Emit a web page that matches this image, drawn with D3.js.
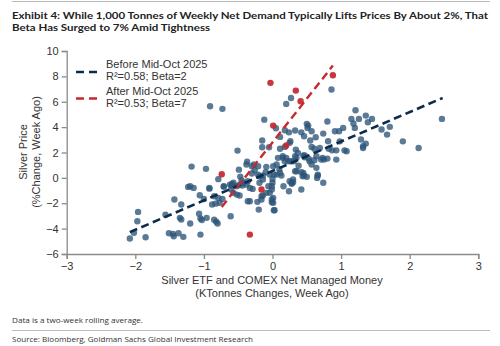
<!DOCTYPE html>
<html><head><meta charset="utf-8">
<script src="https://cdn.jsdelivr.net/npm/d3@7"></script>
<style>body{margin:0;background:#fff}svg{display:block}</style>
</head><body>
<svg id="c" width="500" height="346"></svg>
<script>
// ---- data ----
const beforeX = [-2.08,-2.02,-1.96,-1.97,-1.85,-1.56,-1.43,-1.33,-1.35,-1.33,-1.51,-1.45,-1.44,-1.37,-1.30,-1.23,-1.20,-1.15,-1.20,-1.07,-1.05,-1.03,-1.05,-1.06,-1.00,-0.92,-0.96,-0.88,-0.85,-0.82,-0.80,-0.77,-0.73,-0.71,-0.61,-1.18,-0.97,-0.91,-0.73,-0.79,-0.92,-0.85,-0.79,-0.83,
-0.51,-0.49,-0.37,-0.47,-0.71,-0.59,-0.52,-0.12,0.05,-0.15,-0.15,0.11,-0.38,-0.30,-0.27,-0.21,-0.09,-0.10,-0.57,-0.33,-0.22,-0.01,-0.20,0.03,-0.57,-0.60,-0.48,-0.43,-0.33,-0.29,-0.21,-0.19,-0.14,-0.04,0.00,0.02,-0.19,-0.14,-0.16,-0.09,-0.44,-0.38,-0.36,-0.52,-0.48,-0.36,-0.62,-0.60,-0.16,-0.14,-0.06,-0.01,-0.04,0.01,-0.01,0.01,
0.27,0.20,0.86,0.80,0.18,0.24,0.33,0.42,0.51,0.52,0.57,0.74,0.91,0.97,1.03,0.11,0.26,0.55,0.63,0.81,0.18,0.34,0.57,0.61,0.69,0.93,0.87,1.05,0.46,0.50,-0.05,0.25,
1.15,1.18,1.26,1.36,1.39,1.45,1.21,1.20,1.59,1.71,1.67,1.29,1.36,1.32,1.32,0.98,1.08,1.90,2.13,2.47,
0.15,0.54,0.64,0.71,0.75,0.93,0.66,0.65,0.74,0.45,0.44,0.33,0.25,0.28,0.30,0.16,0.24,0.42,0.00,-0.01,0.02,0.33,0.37,0.45,0.47,0.06,0.11,0.13,0.15,0.20,0.18,0.01,0.06,0.08,0.30,0.28,0.50,0.66,0.35,0.42,0.46,0.82,0.73,0.80,0.53,0.57,0.61,0.64,0.35,0.47,0.23,0.27,0.31,-0.26,-0.30,-0.45,0.10,0.38];
const beforeY = [-4.78,-4.33,-2.68,-3.42,-4.68,-2.90,-1.71,-2.10,-3.15,-3.28,-4.36,-4.41,-4.60,-4.36,-4.65,-0.71,-0.66,-0.79,-3.60,-2.82,-3.20,-3.32,-4.47,-1.37,-1.66,-0.85,-3.15,-2.10,-3.30,-3.45,-3.60,-1.97,-1.66,-0.66,-3.02,0.89,0.71,5.64,5.44,-0.10,-0.79,-1.45,-1.58,-2.03,
2.15,0.65,1.28,0.10,-0.69,-0.47,-0.66,4.59,3.91,2.94,2.41,2.29,1.05,0.92,1.05,0.92,0.87,0.44,-1.18,-1.84,-1.89,-1.92,-2.50,-2.55,-0.39,-0.61,-0.53,-0.39,-0.79,-0.87,0.26,0.13,0.18,0.26,-0.08,0.26,-0.39,-0.13,-1.45,-1.18,-0.61,-0.53,-0.27,-1.32,-1.39,-1.84,-0.53,-0.92,-1.71,-1.39,-0.66,-0.92,-1.18,-1.58,-1.71,-1.97,
6.30,5.83,6.96,4.44,3.75,3.59,3.73,3.59,3.94,4.12,3.67,3.49,3.67,3.67,3.94,3.23,2.89,2.94,3.20,2.89,2.44,2.23,2.44,2.29,2.36,2.17,2.17,2.17,3.28,4.26,2.41,2.76,
4.65,4.28,4.65,4.91,4.38,4.65,5.33,3.94,3.81,4.02,3.41,3.02,2.70,2.49,2.36,2.88,2.10,2.88,2.36,4.65,
1.58,1.31,0.79,1.44,1.44,1.44,0.18,0.00,-0.39,0.39,0.13,0.52,-0.27,-0.47,-0.35,-0.66,-1.06,-0.92,-0.39,-0.66,-2.55,1.70,1.97,1.76,1.63,0.26,0.39,0.18,1.70,1.58,1.31,0.92,1.05,1.58,-0.13,-0.39,0.08,0.26,0.52,0.44,0.18,2.29,1.58,1.52,1.50,1.05,1.39,1.70,1.58,1.76,1.31,1.31,1.31,0.60,0.35,-0.20,0.70,0.95];
const afterX = [-0.74,-0.16,-0.33,-0.03,0.88,0.34,0.41,0.01,0.20];
const afterY = [0.28,-0.92,-4.47,7.49,8.09,6.88,6.04,4.12,2.55];
const fitBeforeX = [-2.08, 2.48];
const fitBeforeY = [-4.28, 6.30];
const fitAfterX = [-0.74, 0.88];
const fitAfterY = [-2.29, 8.85];
const xTicks = [-3,-2,-1,0,1,2,3];
const yTicks = [-6,-4,-2,0,2,4,6,8,10];
const legendLabels = [["Before Mid-Oct 2025","R\u00b2=0.58; Beta=2"],["After Mid-Oct 2025","R\u00b2=0.53; Beta=7"]];
const title1 = "Exhibit 4: While 1,000 Tonnes of Weekly Net Demand Typically Lifts Prices By About 2%, That";
const title2 = "Beta Has Surged to 7% Amid Tightness";

// ---- drawing ----
const svg = d3.select("#c");
const font = "'Liberation Sans', Arial, sans-serif";
const x = d3.scaleLinear().domain([-3,3]).range([66.7,478.3]);
const y = d3.scaleLinear().domain([-6,10]).range([254,51]);

// top rule
svg.append("line").attr("x1",12).attr("x2",490).attr("y1",1.5).attr("y2",1.5).attr("stroke","#bbb").attr("stroke-width",1);
svg.append("text").attr("x",12).attr("y",18.5).text(title1)
  .attr("font-family","Lato, sans-serif").attr("font-weight","bold").attr("font-size",10).attr("fill","#222")
  .attr("textLength",476).attr("lengthAdjust","spacingAndGlyphs");
svg.append("text").attr("x",12).attr("y",30.5).text(title2)
  .attr("font-family","Lato, sans-serif").attr("font-weight","bold").attr("font-size",10).attr("fill","#222")
  .attr("textLength",198).attr("lengthAdjust","spacingAndGlyphs");

// axes
const gx = svg.append("g").attr("transform","translate(0,254)")
  .call(d3.axisBottom(x).tickValues(xTicks).tickSize(5).tickPadding(3).tickFormat(d=>d<0?"\u2212"+Math.abs(d):d));
const gy = svg.append("g").attr("transform","translate(66.7,0)")
  .call(d3.axisLeft(y).tickValues(yTicks).tickSize(5).tickPadding(3).tickFormat(d=>d<0?"\u2212"+Math.abs(d):d));
[gx,gy].forEach(g=>{
  g.select(".domain").attr("stroke","#8a8a8a").attr("stroke-width",1.3);
  g.selectAll(".tick line").attr("stroke","#8a8a8a").attr("stroke-width",1.3);
  g.selectAll("text").attr("font-family",font).attr("font-size",11).attr("fill","#333");
});

// axis titles
svg.append("text").attr("text-anchor","middle").attr("font-family",font).attr("font-size",11).attr("fill","#333")
  .attr("transform","translate(272,284)")
  .selectAll("tspan").data(["Silver ETF and COMEX Net Managed Money","(KTonnes Changes, Week Ago)"]).join("tspan")
  .attr("x",0).attr("dy",(d,i)=>i?12.5:0).text(d=>d);
const yt = svg.append("text").attr("text-anchor","middle").attr("font-family",font).attr("font-size",11).attr("fill","#333")
  .attr("transform","translate(27,152) rotate(-90)");
yt.selectAll("tspan").data(["Silver Price","(%Change, Week Ago)"]).join("tspan")
  .attr("x",0).attr("dy",(d,i)=>i?12.5:0).text(d=>d);

// points
const bdata = beforeX.map((v,i)=>[v,beforeY[i]]);
const adata = afterX.map((v,i)=>[v,afterY[i]]);
svg.append("g").selectAll("circle").data(bdata).join("circle")
  .attr("cx",d=>x(d[0])).attr("cy",d=>y(d[1])).attr("r",3.2)
  .attr("fill","#2d5479").attr("fill-opacity",0.78);
svg.append("g").selectAll("circle").data(adata).join("circle")
  .attr("cx",d=>x(d[0])).attr("cy",d=>y(d[1])).attr("r",3.2)
  .attr("fill","#c4262e").attr("fill-opacity",0.92);

// fit lines
const line = d3.line().x(d=>x(d[0])).y(d=>y(d[1]));
svg.append("path").datum(fitBeforeX.map((v,i)=>[v,fitBeforeY[i]])).attr("d",line)
  .attr("stroke","#0d2b4c").attr("stroke-width",2.6).attr("stroke-dasharray","8,4.5").attr("fill","none");
svg.append("path").datum(fitAfterX.map((v,i)=>[v,fitAfterY[i]])).attr("d",line)
  .attr("stroke","#c8282f").attr("stroke-width",2.4).attr("stroke-dasharray","8,4.5").attr("fill","none");

// legend
const lg = svg.append("g");
const lcol = ["#0d2b4c","#c8282f"];
const ly = [72, 98.5];
legendLabels.forEach((lab,i)=>{
  lg.append("line").attr("x1",76).attr("x2",98).attr("y1",ly[i]).attr("y2",ly[i])
    .attr("stroke",lcol[i]).attr("stroke-width",2.6).attr("stroke-dasharray","8,5");
  lg.append("text").attr("x",106).attr("y",ly[i]-4).attr("font-family",font).attr("font-size",11).attr("fill","#333").text(lab[0]);
  lg.append("text").attr("x",106).attr("y",ly[i]+8).attr("font-family",font).attr("font-size",11).attr("fill","#333").text(lab[1]);
});

// footer
svg.append("text").attr("x",12).attr("y",323).text("Data is a two-week rolling average.")
  .attr("font-family","'Open Sans', sans-serif").attr("font-size",8).attr("fill","#333")
  .attr("textLength",131).attr("lengthAdjust","spacingAndGlyphs");
svg.append("line").attr("x1",12).attr("x2",490).attr("y1",330.5).attr("y2",330.5).attr("stroke","#bbb").attr("stroke-width",1);
svg.append("text").attr("x",12).attr("y",342).text("Source: Bloomberg, Goldman Sachs Global Investment Research")
  .attr("font-family","'Open Sans', sans-serif").attr("font-size",8).attr("fill","#333")
  .attr("textLength",241).attr("lengthAdjust","spacingAndGlyphs");
</script>
</body></html>
